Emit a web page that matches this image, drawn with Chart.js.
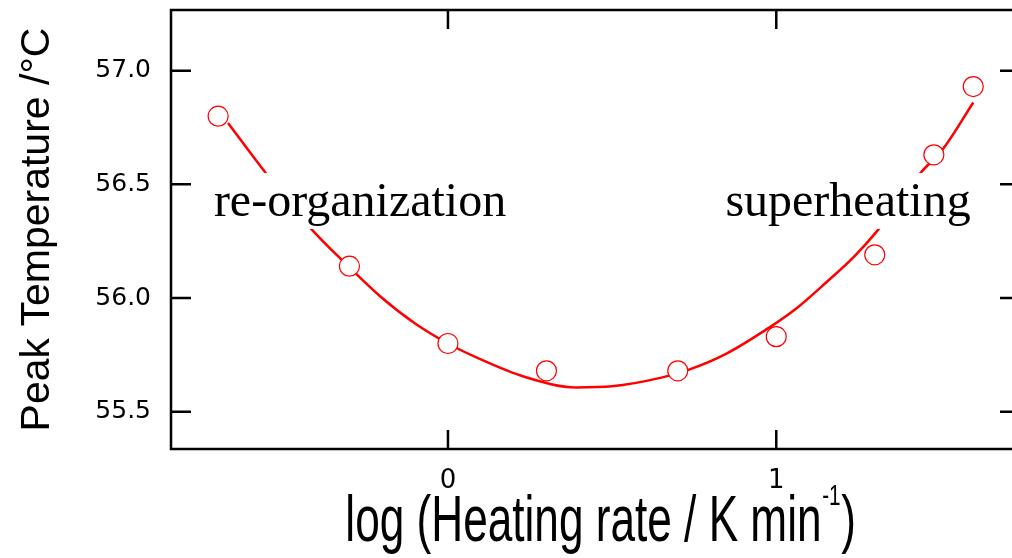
<!DOCTYPE html>
<html>
<head>
<meta charset="utf-8">
<script src="https://cdn.jsdelivr.net/npm/chart.js@4"></script>
<style>
  html, body { margin: 0; padding: 0; background: #fff; }
</style>
</head>
<body>
<canvas id="chart" width="1012" height="558"></canvas>
<script>
// measured peaks: log(heating rate) vs peak temperature
const rateLog = [-0.70, -0.30, 0.0, 0.30, 0.70, 1.0, 1.30, 1.48, 1.60];
const peakTemp = [56.80, 56.14, 55.80, 55.68, 55.68, 55.83, 56.19, 56.63, 56.93];

// fitted curve
const fitLog = [-0.67, -0.555, -0.42, -0.30, -0.205, -0.10, 0.0, 0.10, 0.23, 0.39, 0.50,
  0.65, 0.73, 0.85, 0.97, 1.06, 1.15, 1.24, 1.31, 1.44, 1.51, 1.60];
const fitTemp = [56.77, 56.55, 56.31, 56.135, 56.006, 55.888, 55.80, 55.73, 55.655, 55.607, 55.612,
  55.65, 55.683, 55.757, 55.862, 55.953, 56.066, 56.187, 56.30, 56.551, 56.66, 56.86];

const xTicks = [0, 1];
const yTicks = [55.5, 56.0, 56.5, 57.0];

const xRange = [-0.8436, 1.718];
const yRange = [55.336, 57.267];

// text labels on the plot (data coords, left/baseline)
const notes = [
  { text: "re-organization", x: -0.713, y: 56.361 },
  { text: "superheating", x: 0.845, y: 56.361 },
];

const xTitle = "log (Heating rate / K min";
const xTitleSup = "-1";
const yTitle = "Peak Temperature /°C";

const frame = {
  id: "frame",
  afterDatasetsDraw(chart) {
    const { ctx, scales: { x, y } } = chart;
    ctx.save();
    ctx.font = "48px 'Liberation Serif'";
    ctx.textBaseline = "alphabetic";
    notes.forEach((n) => {
      const px = x.getPixelForValue(n.x);
      const py = y.getPixelForValue(n.y);
      const w = ctx.measureText(n.text).width;
      ctx.fillStyle = "#fff";
      ctx.fillRect(px - 4, py - 43, w + 8, 56);
      ctx.fillStyle = "#000";
      ctx.fillText(n.text, px, py);
    });
    ctx.restore();
  },
  afterDraw(chart) {
    const { ctx, chartArea: a, scales: { x, y } } = chart;
    ctx.save();
    ctx.strokeStyle = "#000";
    ctx.lineWidth = 2.5;
    ctx.beginPath();
    ctx.moveTo(a.right, a.top); ctx.lineTo(a.left, a.top);
    ctx.lineTo(a.left, a.bottom); ctx.lineTo(a.right, a.bottom);
    // inward ticks
    y.ticks.forEach((t) => {
      const py = y.getPixelForValue(t.value);
      ctx.moveTo(a.left, py); ctx.lineTo(a.left + 20, py);
      ctx.moveTo(a.right - 12, py); ctx.lineTo(a.right, py);
    });
    x.ticks.forEach((t) => {
      const px = x.getPixelForValue(t.value);
      ctx.moveTo(px, a.top); ctx.lineTo(px, a.top + 19);
      ctx.moveTo(px, a.bottom); ctx.lineTo(px, a.bottom - 19);
    });
    ctx.stroke();

    // x title (narrow lettering, with superscript)
    ctx.fillStyle = "#000";
    ctx.textBaseline = "alphabetic";
    ctx.translate(600, 541);
    ctx.scale(0.69, 1);
    ctx.font = "64px 'Liberation Sans'";
    const w1 = ctx.measureText(xTitle).width;
    const w3 = ctx.measureText(")").width;
    ctx.font = "30px 'Liberation Sans'";
    const w2 = ctx.measureText(xTitleSup).width;
    const x0 = -(w1 + w2 + w3) / 2;
    ctx.font = "64px 'Liberation Sans'";
    ctx.fillText(xTitle, x0, 0);
    ctx.fillText(")", x0 + w1 + w2 + 2, 0);
    ctx.font = "30px 'Liberation Sans'";
    ctx.fillText(xTitleSup, x0 + w1 + 1, -36);
    ctx.restore();
  },
};

new Chart(document.getElementById("chart"), {
  type: "scatter",
  data: {
    datasets: [
      {
        label: "fit",
        data: fitLog.map((v, i) => ({ x: v, y: fitTemp[i] })),
        showLine: true,
        borderColor: "#ff0000",
        borderWidth: 2.5,
        pointRadius: 0,
        cubicInterpolationMode: "monotone",
        order: 2,
      },
      {
        label: "peak",
        data: rateLog.map((v, i) => ({ x: v, y: peakTemp[i] })),
        showLine: false,
        pointRadius: 10,
        pointBorderWidth: 1.2,
        pointBorderColor: "#ff0000",
        pointBackgroundColor: "#fff",
        order: 1,
      },
    ],
  },
  options: {
    responsive: false,
    animation: false,
    devicePixelRatio: 1,
    layout: { autoPadding: false, padding: { top: 10, right: 0, bottom: 0, left: 0 } },
    plugins: { legend: { display: false }, tooltip: { enabled: false } },
    scales: {
      x: {
        type: "linear",
        min: xRange[0],
        max: xRange[1],
        afterBuildTicks: (s) => { s.ticks = xTicks.map((v) => ({ value: v })); },
        afterFit: (s) => { s.height = 109; s.paddingLeft = 0; s.paddingRight = 0; },
        grid: { display: false },
        border: { display: false },
        ticks: {
          font: { family: "DejaVu Sans", size: 26 },
          color: "#000",
          padding: 9,
          maxRotation: 0,
          autoSkip: false,
        },
      },
      y: {
        min: yRange[0],
        max: yRange[1],
        afterBuildTicks: (s) => { s.ticks = yTicks.map((v) => ({ value: v })); },
        afterFit: (s) => { s.width = 171; s.paddingTop = 0; s.paddingBottom = 0; },
        grid: { display: false },
        border: { display: false },
        ticks: {
          font: { family: "DejaVu Sans", size: 25 },
          color: "#000",
          padding: 12,
          callback: (v) => v.toFixed(1),
        },
        title: {
          display: true,
          text: yTitle,
          font: { family: "Liberation Sans", size: 41 },
          color: "#000",
          padding: { top: 13, bottom: 0 },
        },
      },
    },
  },
  plugins: [frame],
});
</script>
</body>
</html>
